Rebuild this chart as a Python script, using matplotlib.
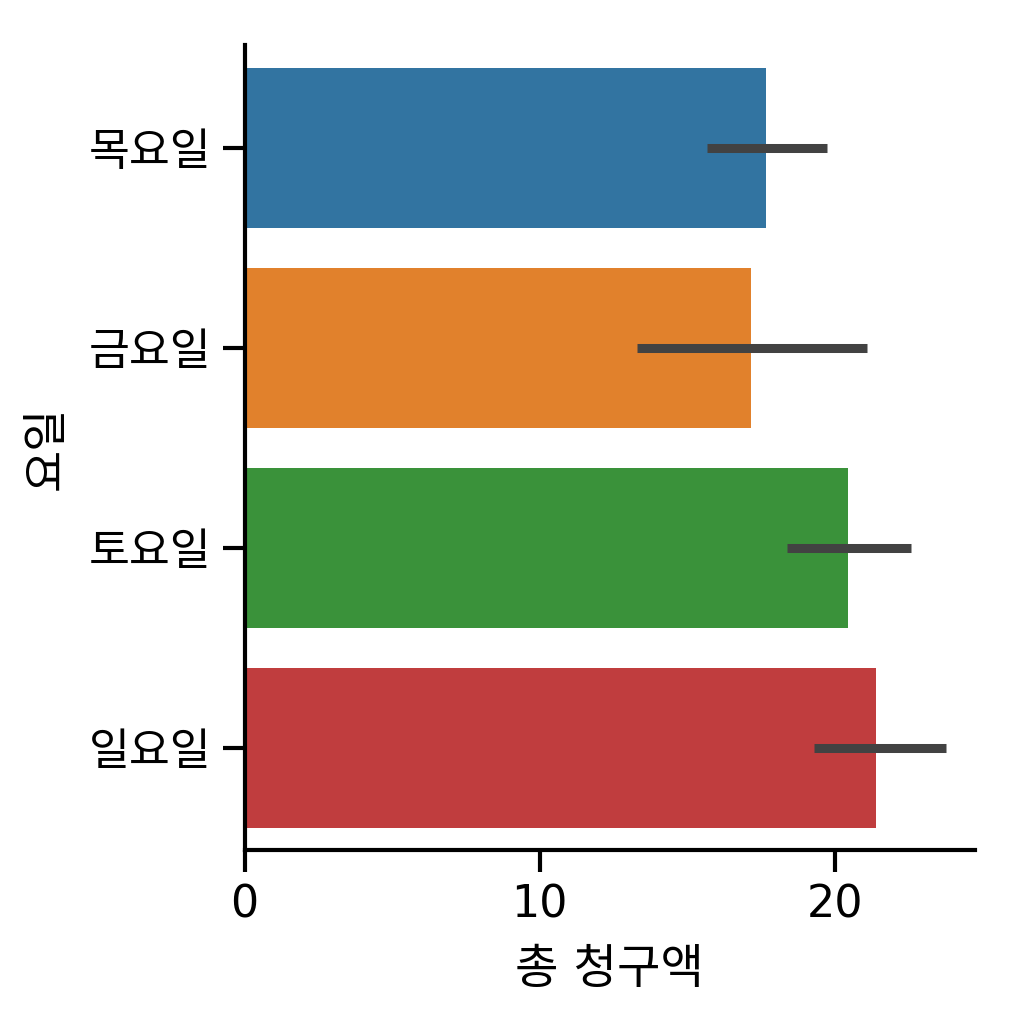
import matplotlib
matplotlib.use("Agg")
import matplotlib.pyplot as plt
import numpy as np

plt.rcParams['font.family'] = ['DejaVu Sans', 'Noto Sans CJK KR']

days = ["목요일", "금요일", "토요일", "일요일"]
means = [17.68, 17.15, 20.44, 21.41]
ci_low = [15.66, 13.29, 18.37, 19.30]
ci_high = [19.73, 21.08, 22.60, 23.76]
colors = ["#3274a1", "#e1812c", "#3a923a", "#c03d3e"]
xticks = [0, 10, 20]

fig = plt.figure(figsize=(10.24, 10.24), dpi=100)
ax = fig.add_axes([0.239, 0.170, 0.713, 0.786])

y = np.arange(len(days))
ax.barh(y, means, height=0.8, color=colors)
for yi, lo, hi in zip(y, ci_low, ci_high):
    ax.plot([lo, hi], [yi, yi], color="#424242", lw=6.5, solid_capstyle="butt")

ax.set_yticks(y)
ax.set_yticklabels(days)
ax.set_ylim(3.51, -0.515)
ax.set_xlim(0, 24.75)
ax.set_xticks(xticks)
ax.set_xlabel("총 청구액", fontsize=34, labelpad=16)
ax.set_ylabel("요일", fontsize=33, labelpad=14)
ax.tick_params(axis='both', labelsize=32, width=3, length=16, pad=8)
for s in ["top", "right"]:
    ax.spines[s].set_visible(False)
for s in ["left", "bottom"]:
    ax.spines[s].set_linewidth(3)

fig.savefig("out.png", dpi=100, facecolor="white")
